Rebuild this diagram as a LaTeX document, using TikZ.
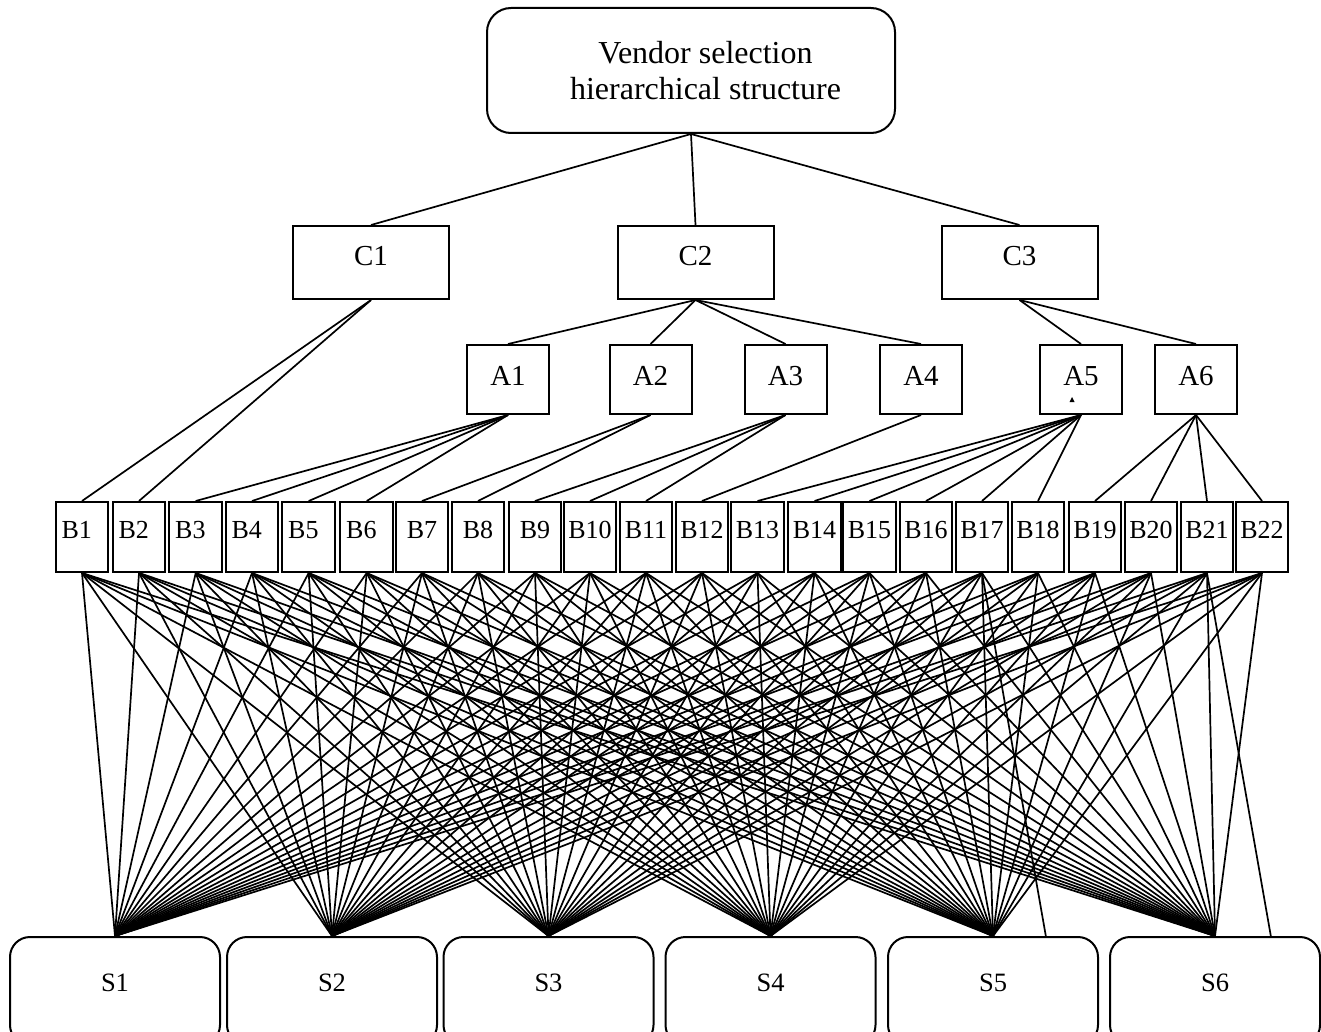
\documentclass[tikz,border=0pt]{standalone}
\usepackage{fontspec}
\setmainfont{Liberation Serif}
\begin{document}
\begin{tikzpicture}[x=1pt,y=-1pt,
  box/.style={draw,line width=2pt,inner sep=0pt,anchor=center},
  topbox/.style={box,rounded corners=24pt,minimum width=408pt,minimum height=125pt,
    font=\fontsize{32}{36.5}\selectfont,align=center},
  cbox/.style={box,minimum width=156pt,minimum height=73pt,
    font=\fontsize{29}{32}\selectfont,text depth=13pt},
  abox/.style={box,minimum width=82pt,minimum height=69pt,
    font=\fontsize{29}{32}\selectfont,text depth=8pt},
  bbox/.style={box,minimum width=52.5pt,minimum height=70pt,
    font=\fontsize{26}{30}\selectfont,text depth=15pt},
  bboxl/.style={bbox,text width=41pt,align=left},
  sbox/.style={box,rounded corners=20pt,minimum width=210pt,minimum height=108pt,
    font=\fontsize{26.5}{30}\selectfont,text depth=16pt},
  link/.style={line width=1.7pt}]
\useasboundingbox (0,0) rectangle (1321,1032);
\clip (0,0) rectangle (1321,1032);
\fill[white] (0,0) rectangle (1321,1032);

% top
\node[topbox] (top) at (691,70.5) {\hspace*{29pt}Vendor selection\\\hspace*{29pt}hierarchical structure};

% criteria
\node[cbox] (C1) at (371,262.5) {C1};
\node[cbox] (C2) at (695.5,262.5) {C2};
\node[cbox] (C3) at (1019.5,262.5) {C3};

% A level
\foreach \i/\x in {1/508,2/650.5,3/785.5,4/921,5/1081,6/1196}
  \node[abox] (A\i) at (\x,379.5) {A\i};

% B level
\foreach \i/\x in {1/82,2/139,3/195.7,4/252,5/308.7,6/366.7}
  \node[bboxl] (B\i) at (\x,537) {B\i};
\foreach \i/\x in {7/422,8/478,9/535,10/590,11/646,12/702,13/757.5,14/814.5,
                   15/869.5,16/926,17/982,18/1038,19/1095,20/1151,21/1207,22/1262}
  \node[bbox] (B\i) at (\x,537) {B\i};

% S level
\foreach \i/\x in {1/115,2/332,3/548.5,4/770.5,5/993,6/1215}
  \node[sbox] (S\i) at (\x,991) {S\i};

\coordinate (s5x) at (1046,937);
\coordinate (s6x) at (1271,937);

% tiny mark in A5
\fill (1069.5,402) -- (1074.5,402) -- (1072,397) -- cycle;

% connectors
\foreach \c in {C1,C2,C3} \draw[link] (top.south) -- (\c.north);
\foreach \b in {1,2} \draw[link] (C1.south) -- (B\b.north);
\foreach \a in {1,2,3,4} \draw[link] (C2.south) -- (A\a.north);
\foreach \a in {5,6} \draw[link] (C3.south) -- (A\a.north);
\foreach \b in {3,4,5,6} \draw[link] (A1.south) -- (B\b.north);
\foreach \b in {7,8} \draw[link] (A2.south) -- (B\b.north);
\foreach \b in {9,10,11} \draw[link] (A3.south) -- (B\b.north);
\draw[link] (A4.south) -- (B12.north);
\foreach \b in {13,14,15,16,17,18} \draw[link] (A5.south) -- (B\b.north);
\foreach \b in {19,20,21,22} \draw[link] (A6.south) -- (B\b.north);

\foreach \b in {1,...,22}
  \foreach \s in {1,...,6}
    \draw[link] (B\b.south) -- (S\s.north);
\draw[link] (B17.south) -- (s5x);
\draw[link] (B21.south) -- (s6x);
\end{tikzpicture}
\end{document}
